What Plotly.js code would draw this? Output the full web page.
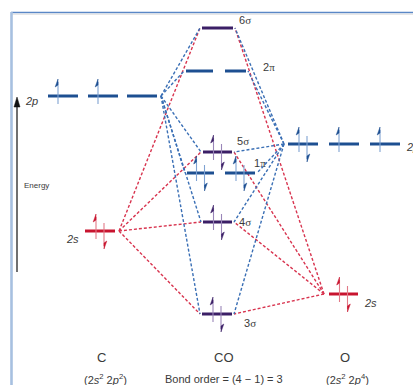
<!DOCTYPE html>
<html><head><meta charset="utf-8">
<script src="https://cdn.plot.ly/plotly-3.0.1.min.js"></script>
<style>html,body{margin:0;padding:0;background:#fff;overflow:hidden}#chart{width:413px;height:385px}</style>
</head><body><div id="chart"></div>
<script>
// ---------------- data (schematic energies) ----------------
const columns = ['C', 'CO', 'O'];
const columnSubtitles = ['(2<i>s</i><sup>2</sup> 2<i>p</i><sup>2</sup>)', 'Bond order = (4 \u2212 1) = 3', '(2<i>s</i><sup>2</sup> 2<i>p</i><sup>4</sup>)'];
const cOrbitals = ['2s', '2p'];
const cEnergies = [154, 289];
const cOccupancy = [[2], [1, 1, 0]];
const oOrbitals = ['2s', '2p'];
const oEnergies = [91, 241];
const oOccupancy = [[2], [2, 1, 1]];
const moNames = ['3σ', '4σ', '1π', '5σ', '2π', '6σ'];
const moEnergies = [71, 163, 212, 233, 314, 357];
const moOccupancy = [[2], [2], [2, 2], [2], [0, 0], [0]];
const cCorrelations = {'2s': ['3σ', '4σ', '5σ', '6σ'], '2p': ['3σ', '4σ', '1π', '5σ', '2π', '6σ']};
const oCorrelations = {'2s': ['3σ', '4σ', '5σ', '6σ'], '2p': ['3σ', '4σ', '1π', '5σ', '2π', '6σ']};
const axisLabel = 'Energy';

// ---------------- layout geometry ----------------
const H = 385;
const Y = p => H - p;            // convert picture row to energy axis
const geomC = {'2s': [[85, 115]], '2p': [[48, 78], [88, 118], [127, 157]]};
const geomO = {'2s': [[329, 358]], '2p': [[288, 318], [329, 359], [370, 400]]};
const geomMO = {'3σ': [[202, 232]], '4σ': [[203, 232]], '1π': [[187, 214], [225, 255]],
                '5σ': [[203, 232]], '2π': [[186, 213], [225, 246]], '6σ': [[202, 233]]};
const anchorC = {'2s': 119, '2p': 161};
const anchorO = {'2s': 324, '2p': 284};
const COL = {
  s: {level: '#c8142f', stem: '#e27a88', head: '#c8142f', dash: '#d8344f'},
  p: {level: '#1d4f91', stem: '#7fa2d2', head: '#1d4f91', dash: '#3a6fb5'},
  σ: {level: '#3b1f66', stem: '#9a86b8', head: '#3b1f66'},
  π: {level: '#1d4f91', stem: '#7fa2d2', head: '#1d4f91'}
};
const textColor = '#3a3a3a';
const FONT = 'Liberation Sans, Arial, sans-serif';

const traces = [];
function lines(xs, ys, color, width, dash) {
  traces.push({type: 'scatter', mode: 'lines', x: xs, y: ys, line: {color: color, width: width, dash: dash || 'solid'},
    hoverinfo: 'skip', showlegend: false});
}
function poly(xs, ys, color) {
  traces.push({type: 'scatter', mode: 'lines', x: xs, y: ys, fill: 'toself', fillcolor: color,
    line: {color: color, width: 0.5}, hoverinfo: 'skip', showlegend: false});
}

// correlation (dashed) lines first, so levels draw above them
function moLeft(n) { return geomMO[n][0][0] - 2; }
function moRight(n) { const g = geomMO[n]; return g[g.length - 1][1] + 2; }
function moE(n) { return moEnergies[moNames.indexOf(n)]; }
cOrbitals.forEach((o, i) => {
  const xs = [], ys = [];
  cCorrelations[o].forEach(m => { xs.push(anchorC[o], moLeft(m), null); ys.push(cEnergies[i], moE(m), null); });
  lines(xs, ys, COL[o[1]].dash, 1.4, '3px,2px');
});
oOrbitals.forEach((o, i) => {
  const xs = [], ys = [];
  oCorrelations[o].forEach(m => { xs.push(anchorO[o], moRight(m), null); ys.push(oEnergies[i], moE(m), null); });
  lines(xs, ys, COL[o[1]].dash, 1.4, '3px,2px');
});

// levels and electrons
function drawLevel(segs, E, occ, col) {
  const xs = [], ys = [];
  segs.forEach(s => { xs.push(s[0], s[1], null); ys.push(E, E, null); });
  lines(xs, ys, col.level, 3);
  segs.forEach((s, k) => {
    const n = occ[k] || 0;
    const c = (s[0] + s[1]) / 2;
    if (n >= 1) {
      const x = n === 2 ? c - 4 : c - 5;
      const top = E + 17, bot = E - 8;
      lines([x, x], [bot, top - 3], col.stem, 1.1);
      poly([x, x - 2.8, x, x], [top, top - 8, top - 6, top], col.head);
    }
    if (n === 2) {
      const x = c + 4;
      const top = E + 8, bot = E - 18;
      lines([x, x], [top, bot + 3], col.stem, 1.1);
      poly([x, x + 2.8, x, x], [bot, bot + 8, bot + 6, bot], col.head);
    }
  });
}
cOrbitals.forEach((o, i) => drawLevel(geomC[o], cEnergies[i], cOccupancy[i], COL[o[1]]));
oOrbitals.forEach((o, i) => drawLevel(geomO[o], oEnergies[i], oOccupancy[i], COL[o[1]]));
moNames.forEach((m, i) => drawLevel(geomMO[m], moEnergies[i], moOccupancy[i], COL[m[1]]));

// frame and energy arrow
lines([11, 413], [Y(12.5), Y(12.5)], '#5a87c6', 1.6);
lines([12, 413], [Y(14.2), Y(14.2)], '#dcdcdc', 1);
lines([11.5, 11.5], [Y(12), Y(385)], '#a7c0e0', 2.6);
lines([17, 17], [Y(272), Y(104)], '#111', 1.2);
poly([17, 14, 20, 17], [Y(97), Y(107), Y(107), Y(97)], '#111');

// text
const gk = s => s.replace(/([σπ])/g, '<span style="font-family:Liberation Serif, Times New Roman, serif">$1</span>');
const ann = [];
function txt(text, x, y, size, anchor, extra) {
  ann.push(Object.assign({text: text, x: x, y: Y(y), xref: 'x', yref: 'y', showarrow: false,
    xanchor: anchor || 'center', yanchor: 'middle', font: {family: FONT, size: size, color: textColor}}, extra || {}));
}
const moLabelPos = {'3σ': [242, 323], '4σ': [237, 222], '1π': [252, 163], '5σ': [235, 141], '2π': [261, 67], '6σ': [237, 20]};
moNames.forEach(m => txt(gk(m), moLabelPos[m][0], moLabelPos[m][1], 11, 'left'));
txt('<i>' + cOrbitals[1] + '</i>', 31, 101, 11);
txt('<i>' + cOrbitals[0] + '</i>', 72, 239, 11);
txt('<i>' + oOrbitals[0] + '</i>', 370, 303, 11);
txt('<i>' + oOrbitals[1] + '</i>', 404, 147, 11, 'left');
txt(axisLabel, 22, 185, 8, 'left');
const colX = [101, 224, 345];
const subX = [105, 224, 347];
columns.forEach((c, i) => txt(c, colX[i], 357, 13));
columnSubtitles.forEach((c, i) => txt(c, subX[i], 379, 11));

const layout = {
  width: 413, height: 385, margin: {l: 0, r: 0, t: 0, b: 0},
  paper_bgcolor: '#fff', plot_bgcolor: '#fff', showlegend: false,
  xaxis: {range: [0, 413], visible: false, fixedrange: true},
  yaxis: {range: [0, 385], visible: false, fixedrange: true},
  annotations: ann
};
Plotly.newPlot('chart', traces, layout, {staticPlot: true, displayModeBar: false});
</script></body></html>
